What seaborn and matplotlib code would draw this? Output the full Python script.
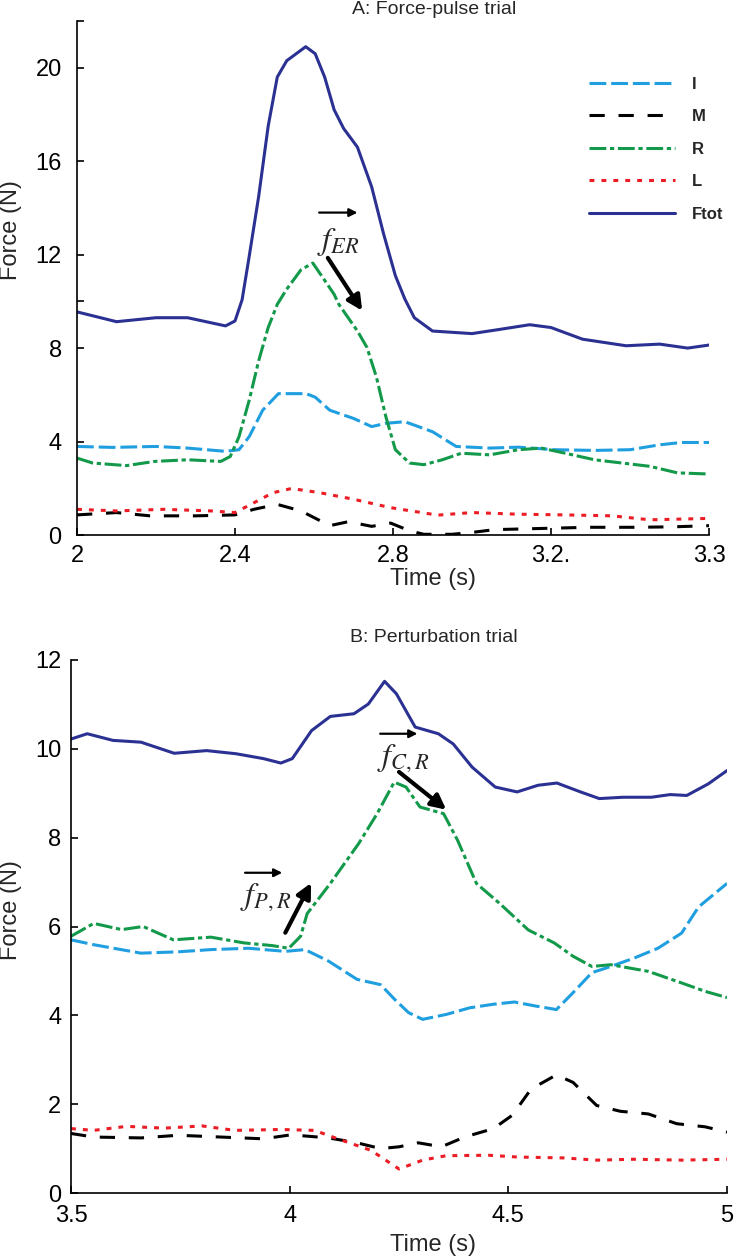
import matplotlib
matplotlib.use("Agg")
import matplotlib.pyplot as plt
import seaborn as sns
import pandas as pd

# ---- panel A: force-pulse trial (axis runs 2..3.6, last tick labelled 3.3 as in the figure)
a_I_t = [2.0, 2.09, 2.2, 2.28, 2.376, 2.41, 2.436, 2.47, 2.51, 2.58, 2.603, 2.64, 2.70, 2.746, 2.782, 2.83,
         2.90, 2.96, 3.045, 3.117, 3.21, 3.31, 3.40, 3.475, 3.53, 3.6]
a_I_f = [3.79, 3.75, 3.79, 3.72, 3.58, 3.65, 4.21, 5.34, 6.05, 6.05, 5.9, 5.34, 4.99, 4.64, 4.78, 4.85,
         4.42, 3.79, 3.72, 3.76, 3.65, 3.62, 3.65, 3.86, 3.96, 3.96]
a_M_t = [2.0, 2.10, 2.185, 2.30, 2.40, 2.448, 2.507, 2.567, 2.64, 2.687, 2.746, 2.794, 2.842, 2.878, 2.949,
         3.0, 3.057, 3.176, 3.296, 3.415, 3.51, 3.6]
a_M_f = [0.86, 0.96, 0.82, 0.82, 0.86, 1.10, 1.31, 1.03, 0.40, 0.57, 0.37, 0.51, 0.18, 0.03, 0.03,
         0.11, 0.23, 0.28, 0.33, 0.33, 0.35, 0.40]
a_R_t = [2.0, 2.04, 2.125, 2.197, 2.28, 2.364, 2.388, 2.41, 2.436, 2.46, 2.484, 2.507, 2.53, 2.567, 2.597,
         2.627, 2.651, 2.663, 2.71, 2.734, 2.758, 2.782, 2.806, 2.842, 2.878, 2.925, 2.973, 3.045, 3.117,
         3.176, 3.236, 3.31, 3.38, 3.45, 3.52, 3.6]
a_R_f = [3.29, 3.08, 2.97, 3.15, 3.22, 3.15, 3.36, 4.2, 5.77, 7.46, 8.88, 9.87, 10.5, 11.35, 11.64,
         10.9, 10.3, 9.87, 8.73, 8.03, 6.76, 5.06, 3.65, 3.08, 3.01, 3.22, 3.5, 3.43, 3.65,
         3.72, 3.5, 3.22, 3.08, 2.94, 2.66, 2.61]
a_L_t = [2.0, 2.10, 2.22, 2.34, 2.40, 2.448, 2.496, 2.543, 2.615, 2.70, 2.794, 2.913, 3.0, 3.117, 3.236,
         3.355, 3.45, 3.6]
a_L_f = [1.10, 1.03, 1.10, 1.03, 0.96, 1.38, 1.81, 1.99, 1.81, 1.53, 1.17, 0.85, 0.96, 0.89, 0.86,
         0.82, 0.65, 0.71]
a_F_t = [2.0, 2.10, 2.20, 2.28, 2.376, 2.40, 2.418, 2.436, 2.46, 2.484, 2.507, 2.531, 2.579, 2.603, 2.627,
         2.651, 2.675, 2.71, 2.746, 2.776, 2.806, 2.83, 2.854, 2.90, 3.0, 3.07, 3.146, 3.20, 3.28, 3.39,
         3.475, 3.546, 3.6]
a_F_f = [9.55, 9.13, 9.30, 9.30, 8.95, 9.16, 10.07, 11.93, 14.5, 17.5, 19.6, 20.3, 20.9, 20.6, 19.6,
         18.2, 17.4, 16.6, 14.9, 12.9, 11.1, 10.1, 9.3, 8.73, 8.62, 8.8, 9.0, 8.88, 8.38, 8.1,
         8.17, 8.0, 8.13]

# ---- panel B: perturbation trial
b_I_t = [3.5, 3.552, 3.66, 3.745, 3.82, 3.906, 3.99, 4.035, 4.089, 4.154, 4.208, 4.24, 4.272, 4.304, 4.358,
         4.412, 4.466, 4.514, 4.562, 4.61, 4.648, 4.691, 4.734, 4.788, 4.842, 4.896, 4.935, 5.0]
b_I_f = [5.70, 5.59, 5.40, 5.43, 5.48, 5.51, 5.44, 5.48, 5.22, 4.81, 4.69, 4.36, 4.06, 3.91, 4.02,
         4.17, 4.25, 4.30, 4.21, 4.13, 4.51, 4.96, 5.10, 5.29, 5.51, 5.85, 6.44, 6.97]
b_M_t = [3.5, 3.552, 3.66, 3.745, 3.842, 3.94, 4.003, 4.089, 4.154, 4.208, 4.25, 4.294, 4.347, 4.40, 4.466,
         4.509, 4.552, 4.61, 4.648, 4.702, 4.756, 4.82, 4.885, 4.95, 5.0]
b_M_f = [1.34, 1.26, 1.24, 1.30, 1.26, 1.22, 1.31, 1.24, 1.13, 1.0, 1.04, 1.13, 1.04, 1.26, 1.45,
         1.75, 2.34, 2.66, 2.49, 1.97, 1.84, 1.78, 1.56, 1.49, 1.37]
b_R_t = [3.5, 3.552, 3.616, 3.665, 3.734, 3.82, 3.896, 3.96, 3.998, 4.025, 4.04, 4.093, 4.158, 4.20, 4.239,
         4.266, 4.298, 4.352, 4.384, 4.427, 4.48, 4.546, 4.605, 4.648, 4.691, 4.734, 4.82, 4.896, 4.95, 5.0]
b_R_f = [5.78, 6.07, 5.93, 6.0, 5.70, 5.76, 5.63, 5.57, 5.51, 5.78, 6.29, 6.97, 7.87, 8.54, 9.25,
         9.14, 8.69, 8.54, 7.94, 6.97, 6.52, 5.92, 5.63, 5.33, 5.10, 5.14, 4.99, 4.73, 4.54, 4.40]
b_L_t = [3.5, 3.552, 3.627, 3.713, 3.80, 3.874, 3.98, 4.057, 4.11, 4.186, 4.25, 4.304, 4.358, 4.455, 4.52,
         4.627, 4.702, 4.788, 4.896, 5.0]
b_L_f = [1.45, 1.41, 1.50, 1.46, 1.51, 1.41, 1.43, 1.41, 1.22, 0.96, 0.54, 0.74, 0.84, 0.85, 0.81,
         0.79, 0.74, 0.76, 0.74, 0.76]
b_F_t = [3.5, 3.537, 3.596, 3.66, 3.736, 3.81, 3.877, 3.94, 3.98, 4.006, 4.05, 4.093, 4.147, 4.18, 4.217,
         4.244, 4.287, 4.34, 4.374, 4.417, 4.47, 4.52, 4.568, 4.611, 4.665, 4.708, 4.762, 4.827, 4.87,
         4.908, 4.957, 5.0]
b_F_f = [10.22, 10.34, 10.19, 10.15, 9.90, 9.96, 9.89, 9.78, 9.68, 9.78, 10.41, 10.73, 10.79, 11.01, 11.52,
         11.24, 10.49, 10.34, 10.11, 9.59, 9.14, 9.03, 9.18, 9.23, 9.03, 8.88, 8.91, 8.91, 8.97,
         8.95, 9.21, 9.51]

series = ["I", "M", "R", "L", "Ftot"]
a_xticks = [2, 2.4, 2.8, 3.2, 3.6]
a_xticklabels = ["2", "2.4", "2.8", "3.2.", "3.3"]
a_yticks = [0, 4, 8, 10, 12, 16, 20, 22]
a_yticklabels = ["0", "4", "8", "", "12", "16", "20", ""]
b_xticks = [3.5, 4, 4.5, 5]
b_xticklabels = ["3.5", "4", "4.5", "5"]
b_yticks = [0, 2, 4, 6, 8, 10, 12]

colors = {"I": "#1f9ee0", "M": "#000000", "R": "#12994a", "L": "#ec1c24", "Ftot": "#2b3192"}
dashes = {"I": (5.5, 1.6), "M": (5, 4.5), "R": (5.5, 1.2, 1.4, 1.2), "L": (1.6, 2.3), "Ftot": ""}


def long_form(tab):
    frames = []
    for name in series:
        t, f = tab[name]
        frames.append(pd.DataFrame({"t": t, "F": f, "series": name}))
    return pd.concat(frames, ignore_index=True)


df_a = long_form({"I": (a_I_t, a_I_f), "M": (a_M_t, a_M_f), "R": (a_R_t, a_R_f),
                  "L": (a_L_t, a_L_f), "Ftot": (a_F_t, a_F_f)})
df_b = long_form({"I": (b_I_t, b_I_f), "M": (b_M_t, b_M_f), "R": (b_R_t, b_R_f),
                  "L": (b_L_t, b_L_f), "Ftot": (b_F_t, b_F_f)})

sns.set_theme(style="ticks")
plt.rcParams["font.family"] = ["Liberation Sans", "DejaVu Sans"]

fig = plt.figure(figsize=(7.38, 12.59), dpi=100)
ax1 = fig.add_axes([77 / 738, 1 - 535 / 1259, (709 - 77) / 738, (535 - 21) / 1259])
ax2 = fig.add_axes([71 / 738, 1 - 1193 / 1259, (727 - 71) / 738, (1193 - 660) / 1259])

for ax, df, leg in [(ax1, df_a, True), (ax2, df_b, False)]:
    sns.lineplot(data=df, x="t", y="F", hue="series", style="series", hue_order=series,
                 style_order=series, palette=colors, dashes=dashes, linewidth=2.2,
                 sort=False, estimator=None, legend=leg, ax=ax,
                 solid_joinstyle="round", dash_joinstyle="round")
    sns.despine(ax=ax)
    for s in ["left", "bottom"]:
        ax.spines[s].set_linewidth(1.2)
        ax.spines[s].set_color("black")
    ax.set_xlabel("")
    ax.set_ylabel("")
    ax.tick_params(direction="in", length=5, width=1.2, labelsize=17, colors="black")

ax1.set_xlim(2, 3.6)
ax1.set_ylim(0, 22)
ax1.set_xticks(a_xticks, a_xticklabels)
ax1.set_yticks(a_yticks, a_yticklabels)
ax1.tick_params(axis="x", pad=7)
ax1.tick_params(axis="y", pad=11)

ax2.set_xlim(3.5, 5)
ax2.set_ylim(0, 12)
ax2.set_xticks(b_xticks, b_xticklabels)
ax2.set_yticks(b_yticks)
ax2.tick_params(axis="x", pad=9)
ax2.tick_params(axis="y", pad=7)

handles, labels = ax1.get_legend_handles_labels()
ax1.legend(handles, labels, frameon=False, loc="upper left", bbox_to_anchor=(0.786, 0.921),
           handlelength=5.2, labelspacing=1.05, handletextpad=1.0,
           prop={"weight": "bold", "size": 12})

# titles and axis labels
fig.text(434 / 738, 1 - 10 / 1259, "A: Force-pulse trial", ha="center", va="center", fontsize=14)
fig.text(434 / 738, 1 - 637 / 1259, "B: Perturbation trial", ha="center", va="center", fontsize=14)
fig.text(433 / 738, 1 - 579 / 1259, "Time (s)", ha="center", va="center", fontsize=17)
fig.text(433 / 738, 1 - 1245 / 1259, "Time (s)", ha="center", va="center", fontsize=17)
fig.text(11 / 738, 1 - 230 / 1259, "Force (N)", ha="center", va="center", rotation=90, fontsize=17)
fig.text(11 / 738, 1 - 910 / 1259, "Force (N)", ha="center", va="center", rotation=90, fontsize=17)

# force vector annotations: big arrow, italic symbol, small vector arrow above it
arrow = dict(arrowstyle="-|>", lw=3, color="black", mutation_scale=22, shrinkA=0, shrinkB=0)
over = dict(arrowstyle="-|>", lw=1.6, color="black", mutation_scale=12, shrinkA=0, shrinkB=0)

ax1.annotate("", xy=(2.71, 13.8), xytext=(2.613, 13.8), arrowprops=over)
ax1.annotate("", xy=(2.722, 9.6), xytext=(2.635, 11.86), arrowprops=arrow)
ax1.text(2.661, 12.55, r"$f_{ER}$", ha="center", va="center", fontsize=23, math_fontfamily="stix")

ax2.annotate("", xy=(4.292, 10.34), xytext=(4.207, 10.34), arrowprops=over)
ax2.annotate("", xy=(4.358, 8.63), xytext=(4.25, 9.48), arrowprops=arrow)
ax2.text(4.26, 9.8, r"$f_{C,R}$", ha="center", va="center", fontsize=23, math_fontfamily="stix")

ax2.annotate("", xy=(3.983, 7.21), xytext=(3.898, 7.21), arrowprops=over)
ax2.annotate("", xy=(4.049, 6.98), xytext=(3.99, 5.86), arrowprops=arrow)
ax2.text(3.946, 6.65, r"$f_{P,R}$", ha="center", va="center", fontsize=23, math_fontfamily="stix")

fig.savefig("out.png", dpi=100)
